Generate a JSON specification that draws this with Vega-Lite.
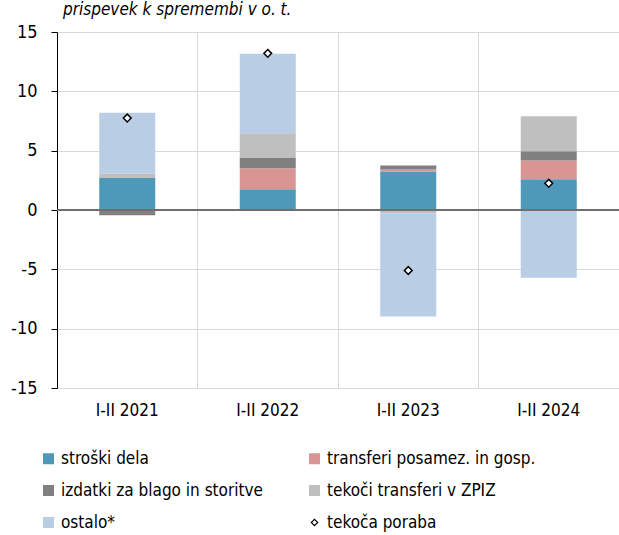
{
  "$schema": "https://vega.github.io/schema/vega-lite/v6.json",
  "width": 562,
  "height": 356,
  "autosize": {"type": "none"},
  "padding": {"left": 57, "top": 32, "right": 0, "bottom": 147},
  "background": "white",
  "config": {"font": "'DejaVu Sans Condensed', 'Liberation Sans Narrow', sans-serif", "view": {"stroke": null}},
  "title": {"text": "prispevek k spremembi v o. t.", "anchor": "start", "frame": "group", "fontStyle": "italic", "fontSize": 17, "fontWeight": "normal", "offset": 4, "dx": 6, "color": "black"},
  "datasets": {
    "bars": [
      {"period": "I-II 2021", "series": "stroški dela", "value": 2.7},
      {"period": "I-II 2021", "series": "transferi posamez. in gosp.", "value": 0},
      {"period": "I-II 2021", "series": "izdatki za blago in storitve", "value": -0.45},
      {"period": "I-II 2021", "series": "tekoči transferi v ZPIZ", "value": 0.35},
      {"period": "I-II 2021", "series": "ostalo*", "value": 5.15},
      {"period": "I-II 2022", "series": "stroški dela", "value": 1.75},
      {"period": "I-II 2022", "series": "transferi posamez. in gosp.", "value": 1.77},
      {"period": "I-II 2022", "series": "izdatki za blago in storitve", "value": 0.9},
      {"period": "I-II 2022", "series": "tekoči transferi v ZPIZ", "value": 2.05},
      {"period": "I-II 2022", "series": "ostalo*", "value": 6.7},
      {"period": "I-II 2023", "series": "stroški dela", "value": 3.24},
      {"period": "I-II 2023", "series": "transferi posamez. in gosp.", "value": 0.17},
      {"period": "I-II 2023", "series": "izdatki za blago in storitve", "value": 0.34},
      {"period": "I-II 2023", "series": "tekoči transferi v ZPIZ", "value": -0.27},
      {"period": "I-II 2023", "series": "ostalo*", "value": -8.7},
      {"period": "I-II 2024", "series": "stroški dela", "value": 2.6},
      {"period": "I-II 2024", "series": "transferi posamez. in gosp.", "value": 1.57},
      {"period": "I-II 2024", "series": "izdatki za blago in storitve", "value": 0.78},
      {"period": "I-II 2024", "series": "tekoči transferi v ZPIZ", "value": 2.95},
      {"period": "I-II 2024", "series": "ostalo*", "value": -5.71}
    ],
    "seriesOrder": [
      {"series": "stroški dela", "rank": 1},
      {"series": "transferi posamez. in gosp.", "rank": 2},
      {"series": "izdatki za blago in storitve", "rank": 3},
      {"series": "tekoči transferi v ZPIZ", "rank": 4},
      {"series": "ostalo*", "rank": 5}
    ],
    "total": [
      {"period": "I-II 2021", "value": 7.75},
      {"period": "I-II 2022", "value": 13.2},
      {"period": "I-II 2023", "value": -5.1},
      {"period": "I-II 2024", "value": 2.25}
    ]
  },
  "layer": [
    {
      "data": {"name": "bars"},
      "transform": [
        {"lookup": "series", "from": {"data": {"name": "seriesOrder"}, "key": "series", "fields": ["rank"]}}
      ],
      "mark": {"type": "bar", "size": 56},
      "encoding": {
        "x": {
          "field": "period", "type": "nominal", "sort": null,
          "scale": {"paddingInner": 0, "paddingOuter": 0},
          "axis": {"title": null, "bandPosition": 0, "labelAngle": 0, "domain": false, "ticks": false, "grid": true, "gridColor": "#d9d9d9", "labelFontSize": 17, "labelColor": "black", "labelPadding": 14}
        },
        "y": {
          "field": "value", "type": "quantitative",
          "scale": {"domain": [-15, 15], "nice": false},
          "axis": {"title": null, "values": [-15, -10, -5, 0, 5, 10, 15], "labelExpr": "toString(datum.value)", "grid": true, "gridColor": "#d9d9d9", "domainColor": "black", "tickColor": "black", "tickSize": 6, "labelPadding": 14, "labelFontSize": 18, "labelColor": "black"}
        },
        "order": {"field": "rank", "type": "quantitative", "sort": "ascending"},
        "color": {
          "field": "series", "type": "nominal",
          "scale": {
            "domain": ["stroški dela", "transferi posamez. in gosp.", "izdatki za blago in storitve", "tekoči transferi v ZPIZ", "ostalo*", "tekoča poraba"],
            "range": ["#4e98b9", "#d99594", "#808080", "#bfbfbf", "#b9cde5", "white"]
          },
          "legend": {
            "title": null, "orient": "none", "legendX": -17, "legendY": 418,
            "direction": "horizontal",
            "columns": 2, "columnPadding": 43, "rowPadding": 14, "labelLimit": 400,
            "symbolType": "square", "symbolSize": 121, "symbolStrokeWidth": 0,
            "labelFontSize": 17, "labelColor": "black", "labelOffset": 4,
            "encode": {"symbols": {"update": {
              "shape": {"signal": "datum.value === 'tekoča poraba' ? 'diamond' : 'square'"},
              "stroke": {"signal": "datum.value === 'tekoča poraba' ? 'black' : null"},
              "strokeWidth": {"signal": "datum.value === 'tekoča poraba' ? 1.2 : 0"},
              "size": {"signal": "datum.value === 'tekoča poraba' ? 40 : 121"}
            }}}
          }
        }
      }
    },
    {
      "data": {"values": [{}]},
      "mark": {"type": "rule", "color": "#6e6e6e", "strokeWidth": 2},
      "encoding": {"y": {"datum": 0}}
    },
    {
      "data": {"name": "total"},
      "mark": {"type": "point", "shape": "diamond", "filled": true, "fill": "white", "stroke": "black", "strokeWidth": 1.5, "size": 60, "opacity": 1},
      "encoding": {
        "x": {"field": "period", "type": "nominal", "sort": null},
        "y": {"field": "value", "type": "quantitative"}
      }
    }
  ]
}
